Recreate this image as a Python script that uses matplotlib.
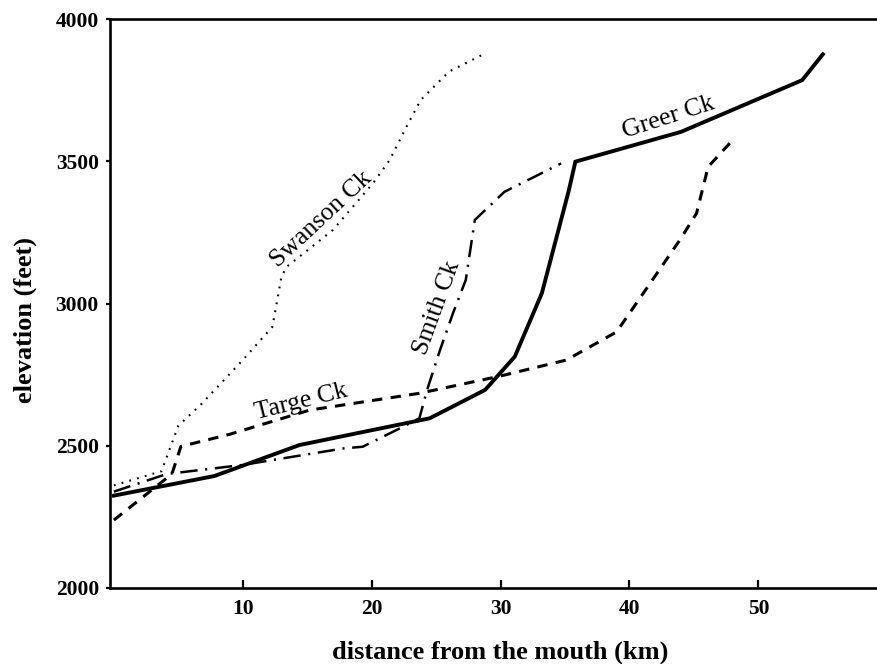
import matplotlib
matplotlib.use("Agg")
import matplotlib.pyplot as plt

# ---- data (km, feet) ----
greer_x = [0.0, 7.8, 14.4, 24.5, 28.8, 31.1, 33.2, 35.3, 35.8, 44.0, 53.4, 55.0]
greer_y = [2324, 2393, 2502, 2596, 2696, 2813, 3036, 3399, 3499, 3604, 3786, 3877]

targe_x = [0.0, 4.5, 5.2, 9.0, 15.2, 23.7, 30.0, 35.1, 39.0, 41.6, 43.9, 45.2, 46.1, 48.0]
targe_y = [2238, 2400, 2497, 2540, 2625, 2684, 2745, 2801, 2900, 3071, 3223, 3317, 3481, 3575]

smith_x = [0.0, 4.1, 10.0, 17.8, 19.3, 22.2, 23.7, 24.3, 25.3, 26.3, 27.3, 28.0, 30.3, 34.7]
smith_y = [2338, 2400, 2432, 2490, 2496, 2561, 2596, 2696, 2836, 2965, 3083, 3294, 3393, 3493]

swanson_x = [0.0, 3.7, 5.0, 6.7, 10.0, 12.3, 13.0, 13.4, 17.0, 20.1, 21.4, 22.7, 23.8, 26.0, 28.8]
swanson_y = [2360, 2410, 2570, 2642, 2801, 2918, 3094, 3129, 3259, 3423, 3505, 3622, 3716, 3816, 3880]

x_ticks = [10, 20, 30, 40, 50]
y_ticks = [2000, 2500, 3000, 3500, 4000]

labels = ["Greer Ck", "Targe Ck", "Smith Ck", "Swanson Ck"]

plt.rcParams['font.family'] = ['Liberation Serif', 'DejaVu Serif']
plt.rcParams['lines.scale_dashes'] = False

fig = plt.figure(figsize=(8.77, 6.64), dpi=100)
ax = fig.add_axes([110/877, 1 - 587.7/664, 1 - 110/877, (587.7 - 19.3)/664])

ax.plot(greer_x, greer_y, color='black', lw=2.8, solid_joinstyle='miter')
ax.plot(targe_x, targe_y, color='black', lw=2.2, linestyle=(0, (7.5, 6.0)))
ax.plot(smith_x, smith_y, color='black', lw=1.8, linestyle=(0, (12.5, 5.5, 1.5, 5.5)))
ax.plot(swanson_x, swanson_y, color='black', lw=1.5, linestyle=(0, (1.3, 4.5)))

ax.set_xlim(-0.3, 59.2)
ax.set_ylim(2000, 4000)
ax.set_xticks(x_ticks)
ax.set_yticks(y_ticks)
ax.set_xticklabels([str(v) for v in x_ticks], fontsize=15.5, fontweight='bold')
ax.set_yticklabels([str(v) for v in y_ticks], fontsize=15.5, fontweight='bold')
ax.tick_params(axis='x', direction='in', length=6, width=1.6, pad=8)
ax.tick_params(axis='y', direction='out', length=3, width=1.6, pad=5)

for s in ['left', 'bottom', 'top']:
    ax.spines[s].set_linewidth(1.9)
ax.spines['right'].set_visible(False)

kw = dict(fontsize=18.5, ha='center', va='center', rotation_mode='anchor')
ax.text(43.0, 3653, labels[0], rotation=18, **kw)
ax.text(14.5, 2654, labels[1], rotation=14, **kw)
ax.text(25.1, 2983, labels[2], rotation=70, **kw)
ax.text(16.1, 3294, labels[3], rotation=43, **kw)

fig.text(500/877, 1 - 652/664, "distance from the mouth (km)", fontsize=19,
         fontweight='bold', ha='center', va='center')
fig.text(25/877, 1 - 320/664, "elevation (feet)", fontsize=19, fontweight='bold',
         ha='center', va='center', rotation=90)

fig.savefig("out.png", dpi=100)
